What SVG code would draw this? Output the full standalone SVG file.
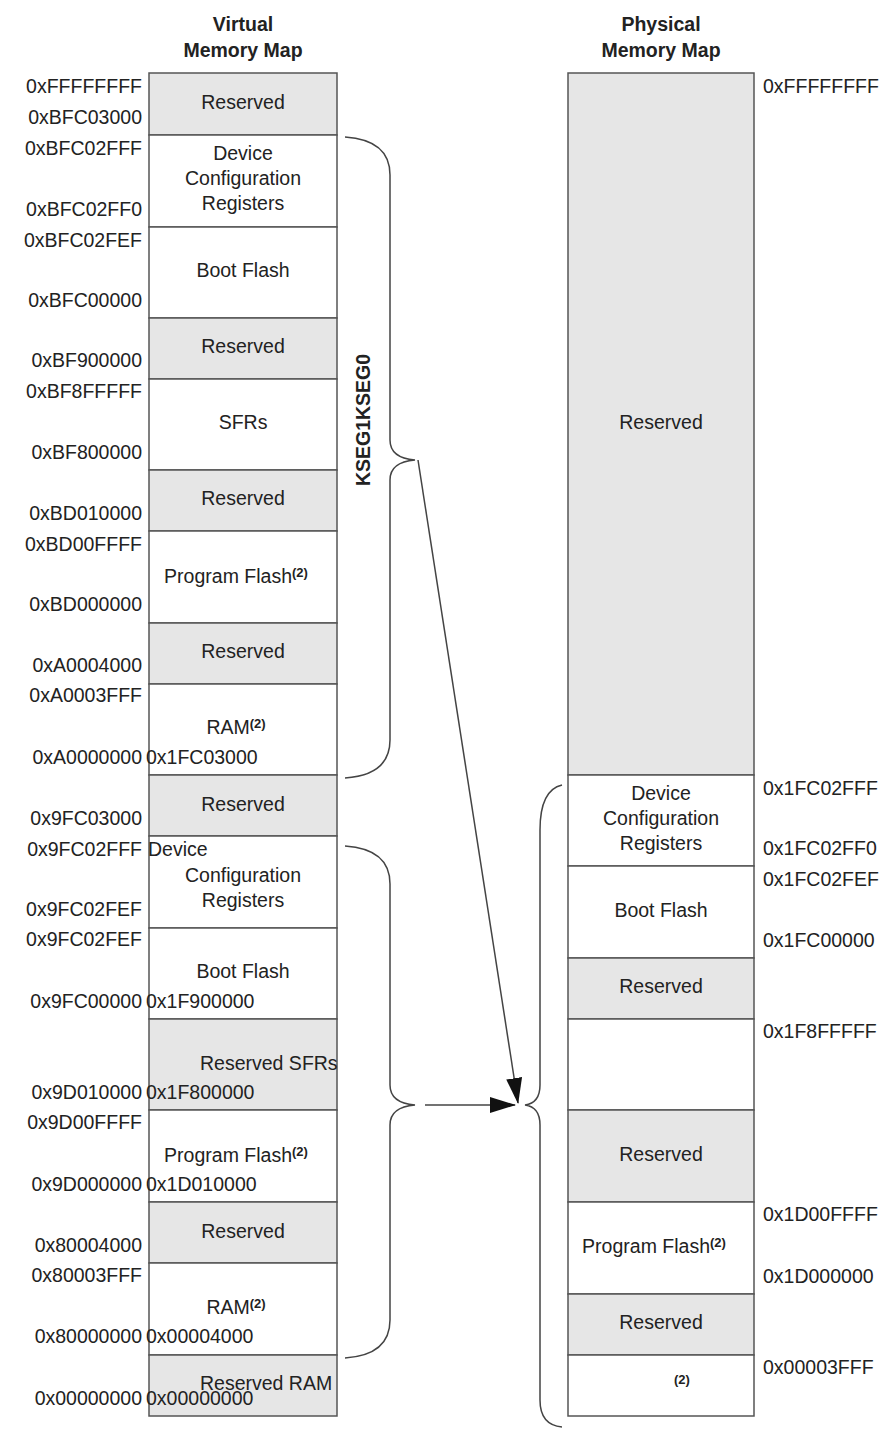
<svg xmlns="http://www.w3.org/2000/svg" width="895" height="1432" viewBox="0 0 895 1432">
<style>
text{font-family:"Liberation Sans",Arial,sans-serif;font-size:19.5px;fill:#222}
.t{font-weight:bold;text-anchor:middle}
.c{text-anchor:middle}
.r{text-anchor:end}
.g{fill:#e6e6e6;stroke:#555;stroke-width:1.5}
.w{fill:#fff;stroke:#555;stroke-width:1.5}
.br{fill:none;stroke:#444;stroke-width:1.5}
.s{font-size:13px;font-weight:bold}
</style>
<defs><marker id="a" markerWidth="26" markerHeight="16" refX="25" refY="8" orient="auto" markerUnits="userSpaceOnUse"><path d="M0,0L26,8L0,16z" fill="#111"/></marker></defs>
<text class="t" x="243" y="31">Virtual</text><text class="t" x="243" y="57">Memory Map</text>
<text class="t" x="661" y="31">Physical</text><text class="t" x="661" y="57">Memory Map</text>
<g id="virtual">
<rect class="g" x="149" y="73" width="188" height="62"/><text class="c" x="243" y="109">Reserved</text>
<rect class="w" x="149" y="135" width="188" height="92"/><text class="c" x="243" y="160">Device</text><text class="c" x="243" y="185">Configuration</text><text class="c" x="243" y="210">Registers</text>
<rect class="w" x="149" y="227" width="188" height="91"/><text class="c" x="243" y="277">Boot Flash</text>
<rect class="g" x="149" y="318" width="188" height="61"/><text class="c" x="243" y="353">Reserved</text>
<rect class="w" x="149" y="379" width="188" height="91"/><text class="c" x="243" y="429">SFRs</text>
<rect class="g" x="149" y="470" width="188" height="61"/><text class="c" x="243" y="505">Reserved</text>
<rect class="w" x="149" y="531" width="188" height="92"/><text class="c" x="236" y="583">Program Flash<tspan class="s" dy="-6">(2)</tspan></text>
<rect class="g" x="149" y="623" width="188" height="61"/><text class="c" x="243" y="658">Reserved</text>
<rect class="w" x="149" y="684" width="188" height="91"/><text class="c" x="236" y="734">RAM<tspan class="s" dy="-6">(2)</tspan></text>
<rect class="g" x="149" y="775" width="188" height="61"/><text class="c" x="243" y="811">Reserved</text>
<rect class="w" x="149" y="836" width="188" height="92"/><text x="148" y="856">Device</text><text class="c" x="243" y="882">Configuration</text><text class="c" x="243" y="907">Registers</text>
<rect class="w" x="149" y="928" width="188" height="91"/><text class="c" x="243" y="978">Boot Flash</text>
<rect class="g" x="149" y="1019" width="188" height="91"/><text x="200" y="1070">Reserved SFRs</text>
<rect class="w" x="149" y="1110" width="188" height="92"/><text class="c" x="236" y="1162">Program Flash<tspan class="s" dy="-6">(2)</tspan></text>
<rect class="g" x="149" y="1202" width="188" height="61"/><text class="c" x="243" y="1238">Reserved</text>
<rect class="w" x="149" y="1263" width="188" height="92"/><text class="c" x="236" y="1314">RAM<tspan class="s" dy="-6">(2)</tspan></text>
<rect class="g" x="149" y="1355" width="188" height="61"/><text x="200" y="1390">Reserved RAM</text>
</g>
<g id="vaddr">
<text class="r" x="142" y="93">0xFFFFFFFF</text><text class="r" x="142" y="124">0xBFC03000</text>
<text class="r" x="142" y="155">0xBFC02FFF</text><text class="r" x="142" y="216">0xBFC02FF0</text>
<text class="r" x="142" y="247">0xBFC02FEF</text><text class="r" x="142" y="307">0xBFC00000</text>
<text class="r" x="142" y="367">0xBF900000</text><text class="r" x="142" y="398">0xBF8FFFFF</text>
<text class="r" x="142" y="459">0xBF800000</text><text class="r" x="142" y="520">0xBD010000</text>
<text class="r" x="142" y="551">0xBD00FFFF</text><text class="r" x="142" y="611">0xBD000000</text>
<text class="r" x="142" y="672">0xA0004000</text><text class="r" x="142" y="702">0xA0003FFF</text>
<text class="r" x="142" y="764">0xA0000000</text><text x="146" y="764">0x1FC03000</text>
<text class="r" x="142" y="825">0x9FC03000</text><text class="r" x="142" y="856">0x9FC02FFF</text>
<text class="r" x="142" y="916">0x9FC02FEF</text><text class="r" x="142" y="946">0x9FC02FEF</text>
<text class="r" x="142" y="1008">0x9FC00000</text><text x="146" y="1008">0x1F900000</text>
<text class="r" x="142" y="1099">0x9D010000</text><text x="146" y="1099">0x1F800000</text>
<text class="r" x="142" y="1129">0x9D00FFFF</text>
<text class="r" x="142" y="1191">0x9D000000</text><text x="146" y="1191">0x1D010000</text>
<text class="r" x="142" y="1252">0x80004000</text><text class="r" x="142" y="1282">0x80003FFF</text>
<text class="r" x="142" y="1343">0x80000000</text><text x="146" y="1343">0x00004000</text>
<text class="r" x="142" y="1405">0x00000000</text><text x="146" y="1405">0x00000000</text>
</g>
<g id="physical">
<rect class="g" x="568" y="73" width="186" height="702"/><text class="c" x="661" y="429">Reserved</text>
<rect class="w" x="568" y="775" width="186" height="91"/><text class="c" x="661" y="800">Device</text><text class="c" x="661" y="825">Configuration</text><text class="c" x="661" y="850">Registers</text>
<rect class="w" x="568" y="866" width="186" height="92"/><text class="c" x="661" y="917">Boot Flash</text>
<rect class="g" x="568" y="958" width="186" height="61"/><text class="c" x="661" y="993">Reserved</text>
<rect class="w" x="568" y="1019" width="186" height="91"/>
<rect class="g" x="568" y="1110" width="186" height="92"/><text class="c" x="661" y="1161">Reserved</text>
<rect class="w" x="568" y="1202" width="186" height="92"/><text class="c" x="654" y="1253">Program Flash<tspan class="s" dy="-6">(2)</tspan></text>
<rect class="g" x="568" y="1294" width="186" height="61"/><text class="c" x="661" y="1329">Reserved</text>
<rect class="w" x="568" y="1355" width="186" height="61"/><text class="s" x="674" y="1384">(2)</text>
</g>
<g id="paddr">
<text x="763" y="93">0xFFFFFFFF</text>
<text x="763" y="795">0x1FC02FFF</text><text x="763" y="855">0x1FC02FF0</text>
<text x="763" y="886">0x1FC02FEF</text><text x="763" y="947">0x1FC00000</text>
<text x="763" y="1038">0x1F8FFFFF</text>
<text x="763" y="1221">0x1D00FFFF</text><text x="763" y="1283">0x1D000000</text>
<text x="763" y="1374">0x00003FFF</text>
</g>
<text class="t" transform="translate(370,420) rotate(-90)">KSEG1KSEG0</text>
<g id="connectors">
<path class="br" d="M345,137 Q390,140 390,175 L390,440 Q390,458 415,460 Q390,462 390,480 L390,740 Q390,775 345,778"/>
<path class="br" d="M345,846 Q390,849 390,884 L390,1085 Q390,1103 415,1105 Q390,1107 390,1125 L390,1320 Q390,1355 345,1358"/>
<path class="br" d="M562,785 Q540,790 540,830 L540,1085 Q540,1103 525,1105 Q540,1107 540,1125 L540,1400 Q540,1425 562,1427"/>
<line class="br" x1="418" y1="460" x2="518" y2="1103" marker-end="url(#a)"/>
<line class="br" x1="425" y1="1105" x2="515" y2="1105" marker-end="url(#a)"/>
</g>
</svg>
